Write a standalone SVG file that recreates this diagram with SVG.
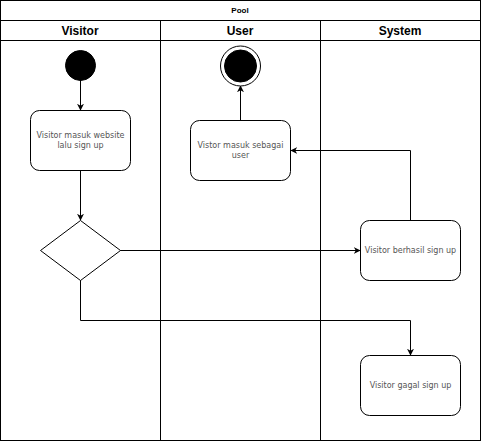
<svg xmlns="http://www.w3.org/2000/svg" width="481" height="441" viewBox="0 0 481 441">
<defs>
<marker id="arr" viewBox="0 0 10 10" refX="9" refY="5" markerWidth="7" markerHeight="7" orient="auto" markerUnits="userSpaceOnUse">
<path d="M0,0 L10,5 L0,10 L3,5 Z" fill="#000"/>
</marker>
</defs>
<style>
.ln{fill:none;stroke:#000;stroke-width:1}
.box{fill:#fff;stroke:#000;stroke-width:1}
.hd{font-family:"Liberation Sans",Arial,sans-serif;font-weight:bold;font-size:12px;fill:#000;text-anchor:middle}
.tt{font-family:"Liberation Sans",Arial,sans-serif;font-weight:bold;font-size:8px;fill:#000;text-anchor:middle}
.lb{font-family:"DejaVu Sans",sans-serif;font-size:8px;fill:#555;text-anchor:middle}
.con{fill:none;stroke:#000;stroke-width:1;marker-end:url(#arr)}
</style>
<rect x="0" y="0" width="480" height="440" fill="#fff"/>
<g id="pool">
<rect class="ln" x="0.5" y="0.5" width="480" height="440"/>
<line class="ln" x1="0.5" y1="20.5" x2="480.5" y2="20.5"/>
<line class="ln" x1="0.5" y1="40.5" x2="480.5" y2="40.5"/>
<line class="ln" x1="160.5" y1="20.5" x2="160.5" y2="440.5"/>
<line class="ln" x1="320.5" y1="20.5" x2="320.5" y2="440.5"/>
<text class="tt" x="240" y="13">Pool</text>
<text class="hd" x="80" y="34.5">Visitor</text>
<text class="hd" x="240" y="34.5">User</text>
<text class="hd" x="400" y="34.5">System</text>
</g>
<g id="connectors">
<path class="con" d="M80.5,80 L80.5,110"/>
<path class="con" d="M80.5,170 L80.5,220"/>
<path class="con" d="M120,250.5 L360,250.5"/>
<path class="con" d="M80.5,280 L80.5,320.5 L410.5,320.5 L410.5,355"/>
<path class="con" d="M410.5,220 L410.5,150.5 L291,150.5"/>
<path class="con" d="M240.5,120 L240.5,86"/>
</g>
<g id="start">
<circle cx="80.5" cy="65.5" r="15" fill="#000" stroke="#000"/>
</g>
<g id="end">
<circle cx="240.5" cy="66" r="20" fill="#fff" stroke="#000"/>
<circle cx="240.5" cy="66" r="16" fill="#000" stroke="#000"/>
</g>
<g id="n1">
<rect class="box" x="30.5" y="110.5" width="100" height="60" rx="9"/>
<text class="lb" x="80.5" y="138">Visitor masuk website</text>
<text class="lb" x="80.5" y="148">lalu sign up</text>
</g>
<g id="n2">
<rect class="box" x="190.5" y="120.5" width="100" height="60" rx="9"/>
<text class="lb" x="240.5" y="148">Vistor masuk sebagai</text>
<text class="lb" x="240.5" y="158">user</text>
</g>
<g id="decision">
<path class="box" d="M80.5,220.5 L120.5,250.5 L80.5,280.5 L40.5,250.5 Z"/>
</g>
<g id="n3">
<rect class="box" x="360.5" y="220.5" width="100" height="60" rx="9"/>
<text class="lb" x="410.5" y="253">Visitor berhasil sign up</text>
</g>
<g id="n4">
<rect class="box" x="360.5" y="355.5" width="100" height="60" rx="9"/>
<text class="lb" x="410.5" y="388">Visitor gagal sign up</text>
</g>
</svg>
